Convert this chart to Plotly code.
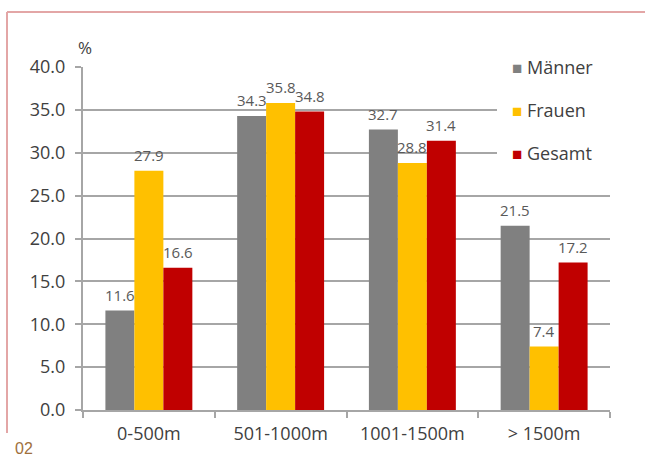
import plotly.graph_objects as go

categories = ["0-500m", "501-1000m", "1001-1500m", "> 1500m"]
maenner = [11.6, 34.3, 32.7, 21.5]
frauen = [27.9, 35.8, 28.8, 7.4]
gesamt = [16.6, 34.8, 31.4, 17.2]
series_names = ["Männer", "Frauen", "Gesamt"]
series_colors = ["#808080", "#FFC000", "#C00000"]
y_ticks = [0, 5, 10, 15, 20, 25, 30, 35, 40]

W, H = 645, 459
L, R, T, B = 83, 35, 67, 49
pw, ph = W - L - R, H - T - B
BARGAP = 0.34

def px_x(px):
    return (px - L) / pw

def px_y(py):
    return (H - B - py) / ph

font = "Open Sans"
fig = go.Figure()
all_series = [maenner, frauen, gesamt]
for name, vals, col in zip(series_names, all_series, series_colors):
    fig.add_trace(go.Bar(
        x=categories, y=vals, name=name, marker_color=col, marker_line_width=0,
        showlegend=False,
    ))

# value labels above bars
bw = (1 - BARGAP) / len(all_series)
for si, vals in enumerate(all_series):
    off = (si - (len(all_series) - 1) / 2) * bw
    for ci, v in enumerate(vals):
        fig.add_annotation(xref="x", yref="y", x=ci + off, y=v, text=f"{v:.1f}",
                           xanchor="center", yanchor="bottom", yshift=4,
                           showarrow=False,
                           font=dict(family=font, size=15, color="#595959"))

fig.update_layout(
    width=W, height=H,
    margin=dict(l=L, r=R, t=T, b=B, autoexpand=False),
    paper_bgcolor="white", plot_bgcolor="white",
    barmode="group", bargap=BARGAP, bargroupgap=0,
    showlegend=False,
    font=dict(family=font, color="#404040"),
    xaxis=dict(
        showline=True, linecolor="#a6a6a6", linewidth=2,
        ticks="outside", ticklen=6, tickcolor="#a6a6a6", tickwidth=2,
        tickson="boundaries", tickfont=dict(size=18, color="#404040"),
        tickangle=0, automargin=False, ticklabelstandoff=6,
        showgrid=False,
    ),
    yaxis=dict(
        range=[0, 40], tickvals=y_ticks, ticktext=[f"{v:.1f}" for v in y_ticks],
        showline=True, linecolor="#a6a6a6", linewidth=2,
        ticks="outside", ticklen=6, tickcolor="#a6a6a6", tickwidth=2,
        showgrid=True, gridcolor="#a6a6a6", gridwidth=2, automargin=False,
        tickfont=dict(size=18, color="#404040"), zeroline=False,
        ticklabelstandoff=6,
    ),
)

# legend background (covers the gridlines behind the legend)
fig.add_shape(type="rect", xref="paper", yref="paper",
              x0=px_x(497), x1=px_x(614), y0=px_y(166), y1=px_y(56),
              fillcolor="white", line=dict(width=0), layer="above")

# "%" unit label
fig.add_annotation(xref="paper", yref="paper", x=px_x(85), y=px_y(48), text="%",
                   xanchor="center", yanchor="middle",
                   showarrow=False, font=dict(size=17, color="#404040"))

# Legend aligned with top gridlines
legend_y = [40, 35, 30]
for name, col, yv in zip(series_names, series_colors, legend_y):
    fig.add_annotation(xref="paper", yref="y", x=px_x(510), y=yv,
                       text=f"<span style='color:{col};font-size:17px'>■</span> {name}",
                       xanchor="left", yanchor="middle", showarrow=False,
                       font=dict(size=18, color="#404040"))

# Frame lines
frame_col = "#e3a6a6"
fig.add_shape(type="line", xref="paper", yref="paper",
              x0=px_x(7), x1=px_x(650), y0=px_y(12), y1=px_y(12),
              line=dict(color=frame_col, width=2))
fig.add_shape(type="line", xref="paper", yref="paper",
              x0=px_x(7), x1=px_x(7), y0=px_y(12), y1=px_y(433),
              line=dict(color=frame_col, width=2))

# Page number
fig.add_annotation(xref="paper", yref="paper", x=px_x(13), y=px_y(448), text="02",
                   xanchor="left", yanchor="middle", showarrow=False,
                   font=dict(family="Liberation Sans", size=16, color="#a0703c"))

fig.write_html("out.html")
